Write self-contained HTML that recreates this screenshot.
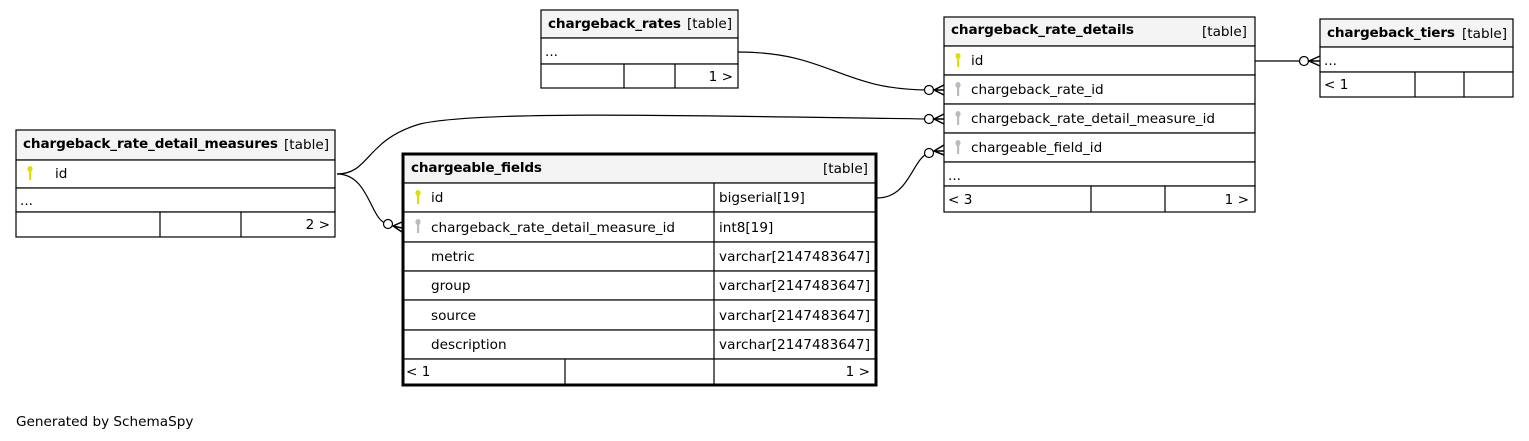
<!DOCTYPE html>
<html><head><meta charset="utf-8"><style>
html,body{margin:0;padding:0;background:#fff;width:1529px;height:441px;overflow:hidden}
svg text{font-family:"DejaVu Sans","Liberation Sans",sans-serif;font-size:13.6px;fill:#000}
.b{font-weight:bold}
</style></head><body>
<svg width="1529" height="441" viewBox="0 0 1529 441" xmlns="http://www.w3.org/2000/svg">
<defs>
<g id="ky"><ellipse cx="0" cy="-4" rx="2.6" ry="3" fill="#e0e000"/><rect x="-1" y="-2" width="2.2" height="9" fill="#e0e000"/></g>
<g id="kg"><ellipse cx="0" cy="-4" rx="2.6" ry="3" fill="#bbb"/><rect x="-1" y="-2" width="2.2" height="9" fill="#bbb"/></g>
</defs>
<g fill="none" stroke="#000" stroke-width="1.2">
<path d="M738,52 C830,52 840,90 929,90"/>
<path d="M337,174 C370,174 365,140 420,124 C480,110 700,116 929,119"/>
<path d="M337,174 C370,174 370,222 388,224"/>
<path d="M877,198 C910,198 912,158 929,153"/>
<path d="M1255,61 L1304,61"/>
</g>
<g fill="#fff" stroke="#000" stroke-width="1.2">
<circle cx="929" cy="90" r="4.5"/><circle cx="929" cy="119" r="4.5"/><circle cx="929" cy="153" r="4.5"/><circle cx="388" cy="224" r="4.5"/><circle cx="1304" cy="61" r="4.5"/>
</g>
<g fill="none" stroke="#000" stroke-width="1.5">
<path d="M944,85 L934,90 L944,95 M934,90 L944,90"/>
<path d="M944,114 L934,119 L944,124 M934,119 L944,119"/>
<path d="M944,145 L934,151 L944,155 M934,151 L944,151"/>
<path d="M402,222 L393,226 L402,232 M393,226 L402,228"/>
<path d="M1320,56 L1309,61 L1320,66 M1309,61 L1320,61"/>
</g>

<g stroke="#000" stroke-width="1.2">
<rect x="541" y="10" width="197" height="28" fill="#f4f4f4"/>
<rect x="541" y="38" width="197" height="26" fill="#fff"/>
<rect x="541" y="64" width="197" height="24" fill="#fff"/>
<line x1="624" y1="64" x2="624" y2="88"/><line x1="675" y1="64" x2="675" y2="88"/>
</g>
<text x="548" y="28" class="b" textLength="133">chargeback_rates</text><text x="687" y="28">[table]</text>
<text x="545" y="56">...</text><text x="733" y="81" text-anchor="end">1 &gt;</text>

<g stroke="#000" stroke-width="1.2" fill="#fff">
<rect x="944" y="17" width="311" height="29" fill="#f4f4f4"/>
<rect x="944" y="46" width="311" height="29"/>
<rect x="944" y="75" width="311" height="29"/>
<rect x="944" y="104" width="311" height="29"/>
<rect x="944" y="133" width="311" height="29"/>
<rect x="944" y="162" width="311" height="24"/>
<rect x="944" y="186" width="311" height="26"/>
<line x1="1091" y1="186" x2="1091" y2="212"/><line x1="1165" y1="186" x2="1165" y2="212"/>
</g>
<text x="951" y="34" class="b" textLength="183">chargeback_rate_details</text><text x="1247" y="36" text-anchor="end">[table]</text>
<use href="#ky" x="958" y="60"/><text x="971" y="65">id</text>
<use href="#kg" x="958" y="89"/><text x="971" y="94">chargeback_rate_id</text>
<use href="#kg" x="958" y="118"/><text x="971" y="123" textLength="244">chargeback_rate_detail_measure_id</text>
<use href="#kg" x="958" y="147"/><text x="971" y="152">chargeable_field_id</text>
<text x="948" y="180">...</text>
<text x="948" y="204">&lt; 3</text><text x="1249" y="204" text-anchor="end">1 &gt;</text>

<g stroke="#000" stroke-width="1.2" fill="#fff">
<rect x="1320" y="19" width="193" height="28" fill="#f4f4f4"/>
<rect x="1320" y="47" width="193" height="25"/>
<rect x="1320" y="72" width="193" height="25"/>
<line x1="1415" y1="72" x2="1415" y2="97"/><line x1="1464" y1="72" x2="1464" y2="97"/>
</g>
<text x="1327" y="37" class="b" textLength="128">chargeback_tiers</text><text x="1462" y="38">[table]</text>
<text x="1324" y="65">...</text><text x="1324" y="89">&lt; 1</text>

<g stroke="#000" stroke-width="1.2" fill="#fff">
<rect x="16" y="130" width="319" height="30" fill="#f4f4f4"/>
<rect x="16" y="160" width="319" height="28"/>
<rect x="16" y="188" width="319" height="24"/>
<rect x="16" y="212" width="319" height="25"/>
<line x1="160" y1="212" x2="160" y2="237"/><line x1="241" y1="212" x2="241" y2="237"/>
</g>
<text x="23" y="148" class="b" textLength="255">chargeback_rate_detail_measures</text><text x="284" y="149">[table]</text>
<use href="#ky" x="30" y="173"/><text x="55" y="178">id</text>
<text x="20" y="205">...</text><text x="330" y="229" text-anchor="end">2 &gt;</text>

<g stroke="#000" stroke-width="1.2" fill="#fff">
<rect x="403" y="154" width="473" height="29" fill="#f4f4f4"/>
<rect x="403" y="183" width="473" height="29"/>
<rect x="403" y="212" width="473" height="30"/>
<rect x="403" y="242" width="473" height="29"/>
<rect x="403" y="271" width="473" height="29"/>
<rect x="403" y="300" width="473" height="30"/>
<rect x="403" y="330" width="473" height="29"/>
<rect x="403" y="359" width="473" height="26"/>
<line x1="714" y1="183" x2="714" y2="385"/><line x1="565" y1="359" x2="565" y2="385"/>
</g>
<rect x="403" y="154" width="473" height="231" fill="none" stroke="#000" stroke-width="3"/>
<text x="411" y="172" class="b" textLength="131">chargeable_fields</text><text x="868" y="173" text-anchor="end">[table]</text>
<use href="#ky" x="418" y="197"/><text x="431" y="202">id</text><text x="719" y="202">bigserial[19]</text>
<use href="#kg" x="418" y="226"/><text x="431" y="232" textLength="244">chargeback_rate_detail_measure_id</text><text x="719" y="232">int8[19]</text>
<text x="431" y="261">metric</text><text x="719" y="261" textLength="151">varchar[2147483647]</text>
<text x="431" y="290">group</text><text x="719" y="290" textLength="151">varchar[2147483647]</text>
<text x="431" y="320">source</text><text x="719" y="320" textLength="151">varchar[2147483647]</text>
<text x="431" y="349">description</text><text x="719" y="349" textLength="151">varchar[2147483647]</text>
<text x="406" y="376">&lt; 1</text><text x="870" y="376" text-anchor="end">1 &gt;</text>

<text x="16" y="426">Generated by SchemaSpy</text>
</svg>
</body></html>
